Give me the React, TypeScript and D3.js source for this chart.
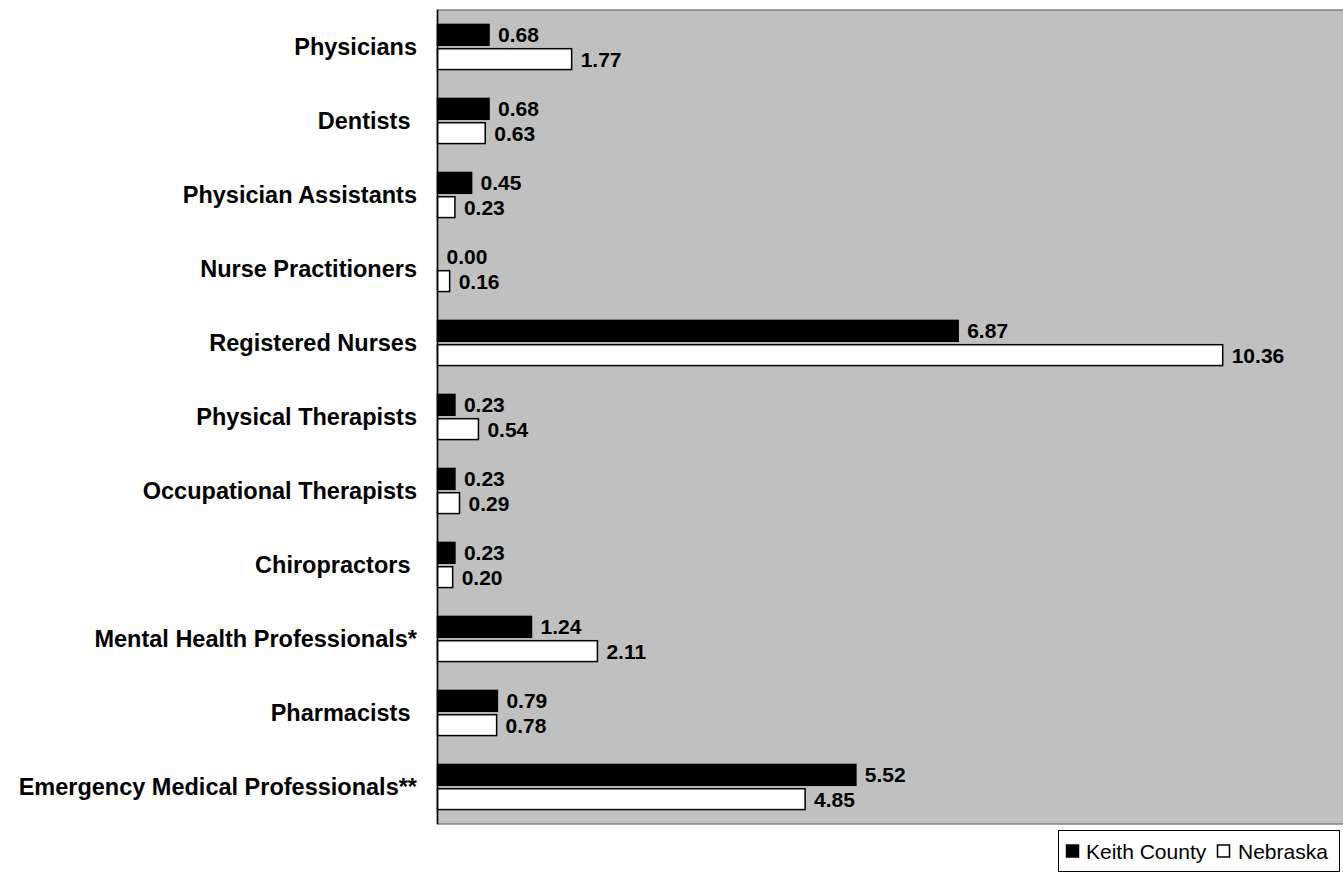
import * as d3 from 'd3';
import { useEffect, useRef } from 'react';

const categories = [
  'Physicians',
  'Dentists ',
  'Physician Assistants',
  'Nurse Practitioners',
  'Registered Nurses',
  'Physical Therapists',
  'Occupational Therapists',
  'Chiropractors ',
  'Mental Health Professionals*',
  'Pharmacists ',
  'Emergency Medical Professionals**',
];
const keithCounty = [0.68, 0.68, 0.45, 0.0, 6.87, 0.23, 0.23, 0.23, 1.24, 0.79, 5.52];
const nebraska = [1.77, 0.63, 0.23, 0.16, 10.36, 0.54, 0.29, 0.2, 2.11, 0.78, 4.85];
const seriesNames = ['Keith County', 'Nebraska'];
const seriesFill = ['#000000', '#ffffff'];

const FONT = '"Liberation Sans", Arial, Helvetica, sans-serif';

export default function App(): React.ReactElement {
  const svgRef = useRef<SVGSVGElement>(null);

  useEffect(() => {
    if (!svgRef.current) return;
    const width = 1343;
    const height = 884;
    const svg = d3.select(svgRef.current);
    svg.selectAll('*').remove();
    svg.attr('width', width).attr('height', height);

    const plot = { left: 437.5, top: 10, bottom: 824, right: 1347 };

    const x = d3.scaleLinear().domain([0, 12]).range([plot.left, plot.right]);
    const y = d3
      .scaleBand()
      .domain(categories)
      .range([plot.top, plot.bottom])
      .paddingInner(0.39)
      .paddingOuter(0.195);
    const ySeries = d3
      .scaleBand()
      .domain(seriesNames)
      .range([0, y.bandwidth()])
      .paddingInner(0.14);

    // Plot area
    svg
      .append('rect')
      .attr('x', plot.left)
      .attr('y', plot.top)
      .attr('width', plot.right - plot.left)
      .attr('height', plot.bottom - plot.top)
      .attr('fill', '#c0c0c0')
      .attr('stroke', '#808080')
      .attr('stroke-width', 1.5);

    // Bars
    const rows = categories.map((c, i) => ({ cat: c, vals: [keithCounty[i], nebraska[i]] }));
    const groups = svg
      .selectAll('.grp')
      .data(rows)
      .enter()
      .append('g')
      .attr('transform', (d) => `translate(0, ${y(d.cat)})`);

    seriesNames.forEach((s, si) => {
      groups
        .append('rect')
        .attr('x', x(0))
        .attr('y', ySeries(s) || 0)
        .attr('width', (d) => Math.max(0, x(d.vals[si]) - x(0)))
        .attr('height', ySeries.bandwidth())
        .attr('fill', seriesFill[si])
        .attr('stroke', '#000')
        .attr('stroke-width', (d) => (d.vals[si] > 0 ? 1.5 : 0));

      groups
        .append('text')
        .attr('x', (d) => x(d.vals[si]) + 9)
        .attr('y', (ySeries(s) || 0) + ySeries.bandwidth() / 2)
        .attr('dominant-baseline', 'central')
        .attr('font-family', FONT)
        .attr('font-weight', 'bold')
        .attr('font-size', 21)
        .attr('fill', '#000')
        .text((d) => d.vals[si].toFixed(2));
    });

    // Axis line
    svg
      .append('line')
      .attr('x1', plot.left)
      .attr('x2', plot.left)
      .attr('y1', plot.top)
      .attr('y2', plot.bottom)
      .attr('stroke', '#000')
      .attr('stroke-width', 1.5);

    // Category labels
    svg
      .selectAll('.cat')
      .data(categories)
      .enter()
      .append('text')
      .attr('x', 417)
      .attr('y', (d) => (y(d) || 0) + y.bandwidth() / 2)
      .attr('text-anchor', 'end')
      .attr('dominant-baseline', 'central')
      .attr('font-family', FONT)
      .attr('font-weight', 'bold')
      .attr('font-size', 23.5)
      .attr('fill', '#000')
      .style('white-space', 'pre')
      .text((d) => d);

    // Legend
    const lg = svg.append('g');
    lg.append('rect')
      .attr('x', 1058.5)
      .attr('y', 830.5)
      .attr('width', 281)
      .attr('height', 41)
      .attr('fill', '#fff')
      .attr('stroke', '#000')
      .attr('stroke-width', 1);
    const legendItems = [
      { name: seriesNames[0], mx: 1066, tx: 1086 },
      { name: seriesNames[1], mx: 1217, tx: 1238 },
    ];
    legendItems.forEach((it, i) => {
      lg.append('rect')
        .attr('x', it.mx + 0.5)
        .attr('y', 845)
        .attr('width', 12)
        .attr('height', 12)
        .attr('fill', seriesFill[i])
        .attr('stroke', '#000')
        .attr('stroke-width', 1.5);
      lg.append('text')
        .attr('x', it.tx)
        .attr('y', 851)
        .attr('dominant-baseline', 'central')
        .attr('font-family', FONT)
        .attr('font-size', 21)
        .attr('fill', '#000')
        .text(it.name);
    });
  }, []);

  return (
    <div style={{ position: 'absolute', left: 0, top: 0 }}>
      <svg ref={svgRef} style={{ display: 'block' }} />
    </div>
  );
}
